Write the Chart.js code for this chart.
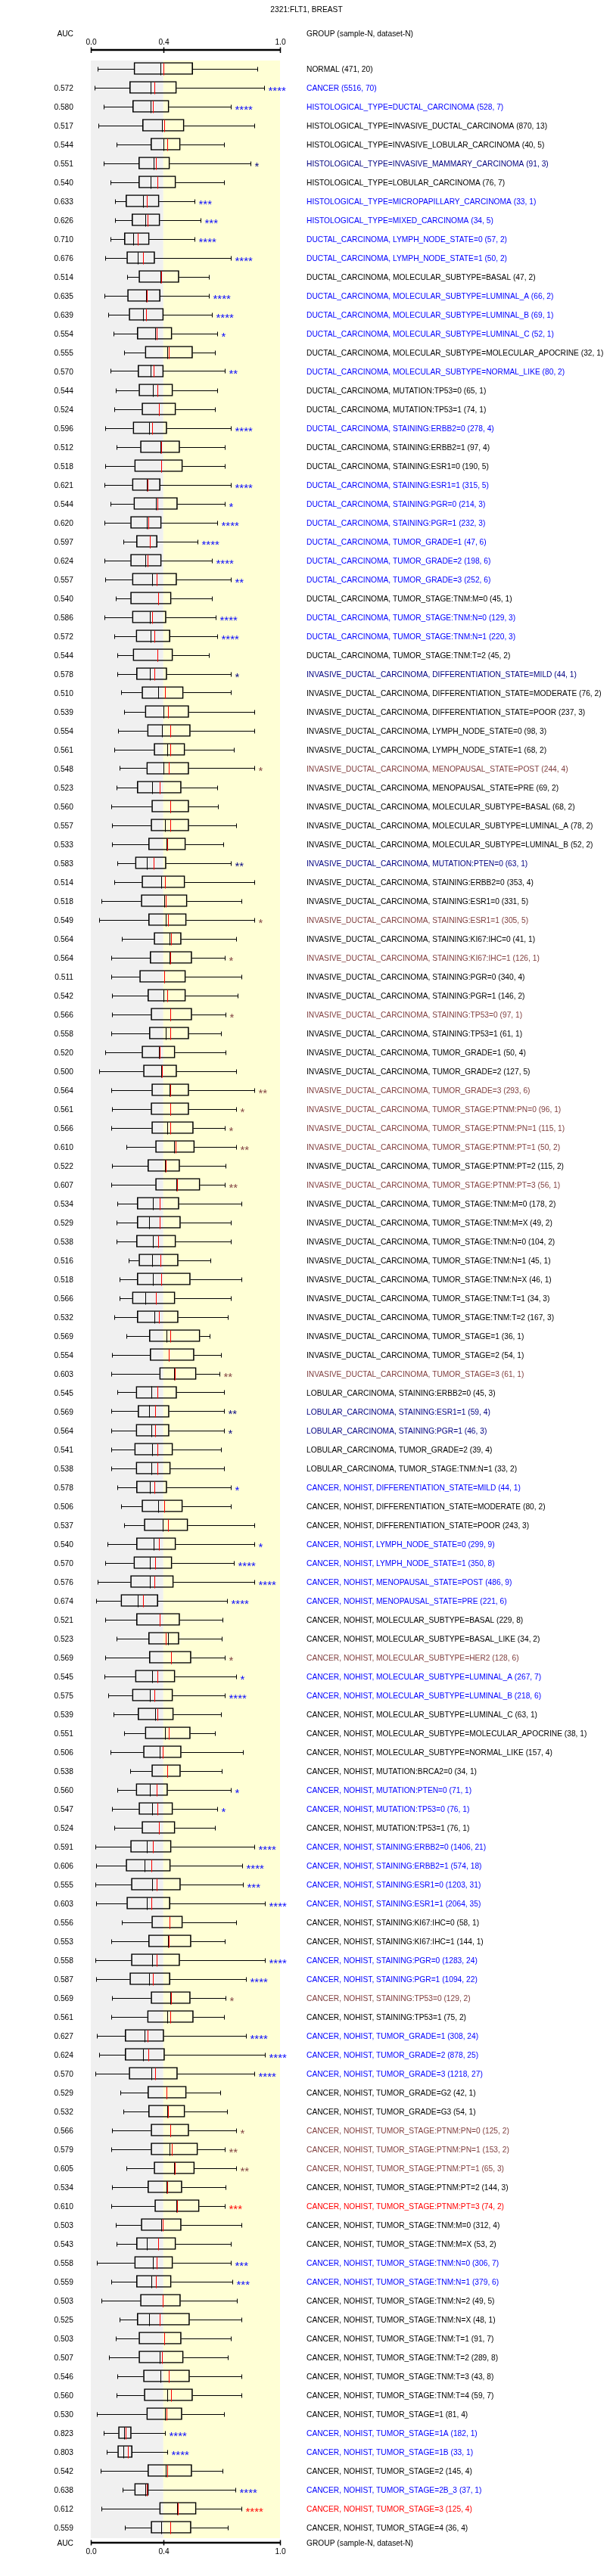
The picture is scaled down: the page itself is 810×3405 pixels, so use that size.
<!doctype html>
<html lang="en">
<head>
  <meta charset="utf-8">
  <title>2321:FLT1, BREAST</title>
  <style>
    * { margin: 0; padding: 0; }
    body { background: #fff; }
    #chart { display: block; }
  </style>
</head>
<body>
  <canvas id="chart" width="810" height="3405"></canvas>
  <script src="https://cdn.jsdelivr.net/npm/chart.js/dist/chart.umd.min.js"></script>
  <script>
    // groups, top to bottom
    const groups = [
      'NORMAL (471, 20)',
      'CANCER (5516, 70)',
      'HISTOLOGICAL_TYPE=DUCTAL_CARCINOMA (528, 7)',
      'HISTOLOGICAL_TYPE=INVASIVE_DUCTAL_CARCINOMA (870, 13)',
      'HISTOLOGICAL_TYPE=INVASIVE_LOBULAR_CARCINOMA (40, 5)',
      'HISTOLOGICAL_TYPE=INVASIVE_MAMMARY_CARCINOMA (91, 3)',
      'HISTOLOGICAL_TYPE=LOBULAR_CARCINOMA (76, 7)',
      'HISTOLOGICAL_TYPE=MICROPAPILLARY_CARCINOMA (33, 1)',
      'HISTOLOGICAL_TYPE=MIXED_CARCINOMA (34, 5)',
      'DUCTAL_CARCINOMA, LYMPH_NODE_STATE=0 (57, 2)',
      'DUCTAL_CARCINOMA, LYMPH_NODE_STATE=1 (50, 2)',
      'DUCTAL_CARCINOMA, MOLECULAR_SUBTYPE=BASAL (47, 2)',
      'DUCTAL_CARCINOMA, MOLECULAR_SUBTYPE=LUMINAL_A (66, 2)',
      'DUCTAL_CARCINOMA, MOLECULAR_SUBTYPE=LUMINAL_B (69, 1)',
      'DUCTAL_CARCINOMA, MOLECULAR_SUBTYPE=LUMINAL_C (52, 1)',
      'DUCTAL_CARCINOMA, MOLECULAR_SUBTYPE=MOLECULAR_APOCRINE (32, 1)',
      'DUCTAL_CARCINOMA, MOLECULAR_SUBTYPE=NORMAL_LIKE (80, 2)',
      'DUCTAL_CARCINOMA, MUTATION:TP53=0 (65, 1)',
      'DUCTAL_CARCINOMA, MUTATION:TP53=1 (74, 1)',
      'DUCTAL_CARCINOMA, STAINING:ERBB2=0 (278, 4)',
      'DUCTAL_CARCINOMA, STAINING:ERBB2=1 (97, 4)',
      'DUCTAL_CARCINOMA, STAINING:ESR1=0 (190, 5)',
      'DUCTAL_CARCINOMA, STAINING:ESR1=1 (315, 5)',
      'DUCTAL_CARCINOMA, STAINING:PGR=0 (214, 3)',
      'DUCTAL_CARCINOMA, STAINING:PGR=1 (232, 3)',
      'DUCTAL_CARCINOMA, TUMOR_GRADE=1 (47, 6)',
      'DUCTAL_CARCINOMA, TUMOR_GRADE=2 (198, 6)',
      'DUCTAL_CARCINOMA, TUMOR_GRADE=3 (252, 6)',
      'DUCTAL_CARCINOMA, TUMOR_STAGE:TNM:M=0 (45, 1)',
      'DUCTAL_CARCINOMA, TUMOR_STAGE:TNM:N=0 (129, 3)',
      'DUCTAL_CARCINOMA, TUMOR_STAGE:TNM:N=1 (220, 3)',
      'DUCTAL_CARCINOMA, TUMOR_STAGE:TNM:T=2 (45, 2)',
      'INVASIVE_DUCTAL_CARCINOMA, DIFFERENTIATION_STATE=MILD (44, 1)',
      'INVASIVE_DUCTAL_CARCINOMA, DIFFERENTIATION_STATE=MODERATE (76, 2)',
      'INVASIVE_DUCTAL_CARCINOMA, DIFFERENTIATION_STATE=POOR (237, 3)',
      'INVASIVE_DUCTAL_CARCINOMA, LYMPH_NODE_STATE=0 (98, 3)',
      'INVASIVE_DUCTAL_CARCINOMA, LYMPH_NODE_STATE=1 (68, 2)',
      'INVASIVE_DUCTAL_CARCINOMA, MENOPAUSAL_STATE=POST (244, 4)',
      'INVASIVE_DUCTAL_CARCINOMA, MENOPAUSAL_STATE=PRE (69, 2)',
      'INVASIVE_DUCTAL_CARCINOMA, MOLECULAR_SUBTYPE=BASAL (68, 2)',
      'INVASIVE_DUCTAL_CARCINOMA, MOLECULAR_SUBTYPE=LUMINAL_A (78, 2)',
      'INVASIVE_DUCTAL_CARCINOMA, MOLECULAR_SUBTYPE=LUMINAL_B (52, 2)',
      'INVASIVE_DUCTAL_CARCINOMA, MUTATION:PTEN=0 (63, 1)',
      'INVASIVE_DUCTAL_CARCINOMA, STAINING:ERBB2=0 (353, 4)',
      'INVASIVE_DUCTAL_CARCINOMA, STAINING:ESR1=0 (331, 5)',
      'INVASIVE_DUCTAL_CARCINOMA, STAINING:ESR1=1 (305, 5)',
      'INVASIVE_DUCTAL_CARCINOMA, STAINING:KI67:IHC=0 (41, 1)',
      'INVASIVE_DUCTAL_CARCINOMA, STAINING:KI67:IHC=1 (126, 1)',
      'INVASIVE_DUCTAL_CARCINOMA, STAINING:PGR=0 (340, 4)',
      'INVASIVE_DUCTAL_CARCINOMA, STAINING:PGR=1 (146, 2)',
      'INVASIVE_DUCTAL_CARCINOMA, STAINING:TP53=0 (97, 1)',
      'INVASIVE_DUCTAL_CARCINOMA, STAINING:TP53=1 (61, 1)',
      'INVASIVE_DUCTAL_CARCINOMA, TUMOR_GRADE=1 (50, 4)',
      'INVASIVE_DUCTAL_CARCINOMA, TUMOR_GRADE=2 (127, 5)',
      'INVASIVE_DUCTAL_CARCINOMA, TUMOR_GRADE=3 (293, 6)',
      'INVASIVE_DUCTAL_CARCINOMA, TUMOR_STAGE:PTNM:PN=0 (96, 1)',
      'INVASIVE_DUCTAL_CARCINOMA, TUMOR_STAGE:PTNM:PN=1 (115, 1)',
      'INVASIVE_DUCTAL_CARCINOMA, TUMOR_STAGE:PTNM:PT=1 (50, 2)',
      'INVASIVE_DUCTAL_CARCINOMA, TUMOR_STAGE:PTNM:PT=2 (115, 2)',
      'INVASIVE_DUCTAL_CARCINOMA, TUMOR_STAGE:PTNM:PT=3 (56, 1)',
      'INVASIVE_DUCTAL_CARCINOMA, TUMOR_STAGE:TNM:M=0 (178, 2)',
      'INVASIVE_DUCTAL_CARCINOMA, TUMOR_STAGE:TNM:M=X (49, 2)',
      'INVASIVE_DUCTAL_CARCINOMA, TUMOR_STAGE:TNM:N=0 (104, 2)',
      'INVASIVE_DUCTAL_CARCINOMA, TUMOR_STAGE:TNM:N=1 (45, 1)',
      'INVASIVE_DUCTAL_CARCINOMA, TUMOR_STAGE:TNM:N=X (46, 1)',
      'INVASIVE_DUCTAL_CARCINOMA, TUMOR_STAGE:TNM:T=1 (34, 3)',
      'INVASIVE_DUCTAL_CARCINOMA, TUMOR_STAGE:TNM:T=2 (167, 3)',
      'INVASIVE_DUCTAL_CARCINOMA, TUMOR_STAGE=1 (36, 1)',
      'INVASIVE_DUCTAL_CARCINOMA, TUMOR_STAGE=2 (54, 1)',
      'INVASIVE_DUCTAL_CARCINOMA, TUMOR_STAGE=3 (61, 1)',
      'LOBULAR_CARCINOMA, STAINING:ERBB2=0 (45, 3)',
      'LOBULAR_CARCINOMA, STAINING:ESR1=1 (59, 4)',
      'LOBULAR_CARCINOMA, STAINING:PGR=1 (46, 3)',
      'LOBULAR_CARCINOMA, TUMOR_GRADE=2 (39, 4)',
      'LOBULAR_CARCINOMA, TUMOR_STAGE:TNM:N=1 (33, 2)',
      'CANCER, NOHIST, DIFFERENTIATION_STATE=MILD (44, 1)',
      'CANCER, NOHIST, DIFFERENTIATION_STATE=MODERATE (80, 2)',
      'CANCER, NOHIST, DIFFERENTIATION_STATE=POOR (243, 3)',
      'CANCER, NOHIST, LYMPH_NODE_STATE=0 (299, 9)',
      'CANCER, NOHIST, LYMPH_NODE_STATE=1 (350, 8)',
      'CANCER, NOHIST, MENOPAUSAL_STATE=POST (486, 9)',
      'CANCER, NOHIST, MENOPAUSAL_STATE=PRE (221, 6)',
      'CANCER, NOHIST, MOLECULAR_SUBTYPE=BASAL (229, 8)',
      'CANCER, NOHIST, MOLECULAR_SUBTYPE=BASAL_LIKE (34, 2)',
      'CANCER, NOHIST, MOLECULAR_SUBTYPE=HER2 (128, 6)',
      'CANCER, NOHIST, MOLECULAR_SUBTYPE=LUMINAL_A (267, 7)',
      'CANCER, NOHIST, MOLECULAR_SUBTYPE=LUMINAL_B (218, 6)',
      'CANCER, NOHIST, MOLECULAR_SUBTYPE=LUMINAL_C (63, 1)',
      'CANCER, NOHIST, MOLECULAR_SUBTYPE=MOLECULAR_APOCRINE (38, 1)',
      'CANCER, NOHIST, MOLECULAR_SUBTYPE=NORMAL_LIKE (157, 4)',
      'CANCER, NOHIST, MUTATION:BRCA2=0 (34, 1)',
      'CANCER, NOHIST, MUTATION:PTEN=0 (71, 1)',
      'CANCER, NOHIST, MUTATION:TP53=0 (76, 1)',
      'CANCER, NOHIST, MUTATION:TP53=1 (76, 1)',
      'CANCER, NOHIST, STAINING:ERBB2=0 (1406, 21)',
      'CANCER, NOHIST, STAINING:ERBB2=1 (574, 18)',
      'CANCER, NOHIST, STAINING:ESR1=0 (1203, 31)',
      'CANCER, NOHIST, STAINING:ESR1=1 (2064, 35)',
      'CANCER, NOHIST, STAINING:KI67:IHC=0 (58, 1)',
      'CANCER, NOHIST, STAINING:KI67:IHC=1 (144, 1)',
      'CANCER, NOHIST, STAINING:PGR=0 (1283, 24)',
      'CANCER, NOHIST, STAINING:PGR=1 (1094, 22)',
      'CANCER, NOHIST, STAINING:TP53=0 (129, 2)',
      'CANCER, NOHIST, STAINING:TP53=1 (75, 2)',
      'CANCER, NOHIST, TUMOR_GRADE=1 (308, 24)',
      'CANCER, NOHIST, TUMOR_GRADE=2 (878, 25)',
      'CANCER, NOHIST, TUMOR_GRADE=3 (1218, 27)',
      'CANCER, NOHIST, TUMOR_GRADE=G2 (42, 1)',
      'CANCER, NOHIST, TUMOR_GRADE=G3 (54, 1)',
      'CANCER, NOHIST, TUMOR_STAGE:PTNM:PN=0 (125, 2)',
      'CANCER, NOHIST, TUMOR_STAGE:PTNM:PN=1 (153, 2)',
      'CANCER, NOHIST, TUMOR_STAGE:PTNM:PT=1 (65, 3)',
      'CANCER, NOHIST, TUMOR_STAGE:PTNM:PT=2 (144, 3)',
      'CANCER, NOHIST, TUMOR_STAGE:PTNM:PT=3 (74, 2)',
      'CANCER, NOHIST, TUMOR_STAGE:TNM:M=0 (312, 4)',
      'CANCER, NOHIST, TUMOR_STAGE:TNM:M=X (53, 2)',
      'CANCER, NOHIST, TUMOR_STAGE:TNM:N=0 (306, 7)',
      'CANCER, NOHIST, TUMOR_STAGE:TNM:N=1 (379, 6)',
      'CANCER, NOHIST, TUMOR_STAGE:TNM:N=2 (49, 5)',
      'CANCER, NOHIST, TUMOR_STAGE:TNM:N=X (48, 1)',
      'CANCER, NOHIST, TUMOR_STAGE:TNM:T=1 (91, 7)',
      'CANCER, NOHIST, TUMOR_STAGE:TNM:T=2 (289, 8)',
      'CANCER, NOHIST, TUMOR_STAGE:TNM:T=3 (43, 8)',
      'CANCER, NOHIST, TUMOR_STAGE:TNM:T=4 (59, 7)',
      'CANCER, NOHIST, TUMOR_STAGE=1 (81, 4)',
      'CANCER, NOHIST, TUMOR_STAGE=1A (182, 1)',
      'CANCER, NOHIST, TUMOR_STAGE=1B (33, 1)',
      'CANCER, NOHIST, TUMOR_STAGE=2 (145, 4)',
      'CANCER, NOHIST, TUMOR_STAGE=2B_3 (37, 1)',
      'CANCER, NOHIST, TUMOR_STAGE=3 (125, 4)',
      'CANCER, NOHIST, TUMOR_STAGE=4 (36, 4)'
    ];

    // AUC vs normal (first row has none)
    const auc = [
      null, 0.572, 0.580, 0.517, 0.544, 0.551, 0.540, 0.633, 0.626, 0.710,
      0.676, 0.514, 0.635, 0.639, 0.554, 0.555, 0.570, 0.544, 0.524, 0.596,
      0.512, 0.518, 0.621, 0.544, 0.620, 0.597, 0.624, 0.557, 0.540, 0.586,
      0.572, 0.544, 0.578, 0.510, 0.539, 0.554, 0.561, 0.548, 0.523, 0.560,
      0.557, 0.533, 0.583, 0.514, 0.518, 0.549, 0.564, 0.564, 0.511, 0.542,
      0.566, 0.558, 0.520, 0.500, 0.564, 0.561, 0.566, 0.610, 0.522, 0.607,
      0.534, 0.529, 0.538, 0.516, 0.518, 0.566, 0.532, 0.569, 0.554, 0.603,
      0.545, 0.569, 0.564, 0.541, 0.538, 0.578, 0.506, 0.537, 0.540, 0.570,
      0.576, 0.674, 0.521, 0.523, 0.569, 0.545, 0.575, 0.539, 0.551, 0.506,
      0.538, 0.560, 0.547, 0.524, 0.591, 0.606, 0.555, 0.603, 0.556, 0.553,
      0.558, 0.587, 0.569, 0.561, 0.627, 0.624, 0.570, 0.529, 0.532, 0.566,
      0.579, 0.605, 0.534, 0.610, 0.503, 0.543, 0.558, 0.559, 0.503, 0.525,
      0.503, 0.507, 0.546, 0.560, 0.530, 0.823, 0.803, 0.542, 0.638, 0.612,
      0.559
    ];

    // number of significance stars
    const stars = [
      0, 4, 4, 0, 0, 1, 0, 3, 3, 4,
      4, 0, 4, 4, 1, 0, 2, 0, 0, 4,
      0, 0, 4, 1, 4, 4, 4, 2, 0, 4,
      4, 0, 1, 0, 0, 0, 0, 1, 0, 0,
      0, 0, 2, 0, 0, 1, 0, 1, 0, 0,
      1, 0, 0, 0, 2, 1, 1, 2, 0, 2,
      0, 0, 0, 0, 0, 0, 0, 0, 0, 2,
      0, 2, 1, 0, 0, 1, 0, 0, 1, 4,
      4, 4, 0, 0, 1, 1, 4, 0, 0, 0,
      0, 1, 1, 0, 4, 4, 3, 4, 0, 0,
      4, 4, 1, 0, 4, 4, 4, 0, 0, 1,
      2, 2, 0, 3, 0, 0, 3, 3, 0, 0,
      0, 0, 0, 0, 0, 4, 4, 0, 4, 4,
      0
    ];

    // result class: k none, b lower, n lower (weak), m higher, r higher (strong)
    const tone = [
      'k', 'b', 'b', 'k', 'k', 'n', 'k', 'b', 'b', 'b',
      'b', 'k', 'b', 'b', 'b', 'k', 'b', 'k', 'k', 'b',
      'k', 'k', 'b', 'b', 'b', 'b', 'b', 'b', 'k', 'b',
      'b', 'k', 'n', 'k', 'k', 'k', 'k', 'm', 'k', 'k',
      'k', 'k', 'n', 'k', 'k', 'm', 'k', 'm', 'k', 'k',
      'm', 'k', 'k', 'k', 'm', 'm', 'm', 'm', 'k', 'm',
      'k', 'k', 'k', 'k', 'k', 'k', 'k', 'k', 'k', 'm',
      'k', 'n', 'n', 'k', 'k', 'b', 'k', 'k', 'b', 'b',
      'b', 'b', 'k', 'k', 'm', 'b', 'b', 'k', 'k', 'k',
      'k', 'b', 'b', 'k', 'b', 'b', 'b', 'b', 'k', 'k',
      'b', 'b', 'm', 'k', 'b', 'b', 'b', 'k', 'k', 'm',
      'm', 'm', 'k', 'r', 'k', 'k', 'b', 'b', 'k', 'k',
      'k', 'k', 'k', 'k', 'k', 'b', 'b', 'k', 'b', 'r',
      'k'
    ];

    const whiskerLow = [
      .037, .021, .069, .040, .137, .069, .105, .129, .129, .105,
      .074, .190, .070, .091, .118, .175, .105, .130, .122, .074,
      .134, .074, .070, .105, .070, .173, .070, .074, .130, .070,
      .122, .138, .138, .159, .175, .142, .122, .151, .134, .109,
      .111, .111, .138, .122, .054, .043, .163, .109, .109, .111,
      .111, .109, .074, .043, .109, .111, .109, .186, .111, .109,
      .138, .134, .134, .198, .151, .151, .122, .186, .111, .109,
      .138, .109, .109, .109, .109, .138, .159, .175, .087, .074,
      .035, .027, .074, .134, .074, .070, .091, .118, .175, .105,
      .206, .138, .111, .122, .023, .027, .023, .027, .163, .109,
      .023, .027, .111, .109, .031, .043, .023, .155, .171, .111,
      .109, .186, .111, .109, .130, .134, .031, .109, .054, .151,
      .130, .095, .138, .134, .031, .066, .082, .052, .167, .054,
      .179
    ];

    const quart1 = [
      .228, .205, .221, .273, .317, .253, .253, .185, .217, .177,
      .190, .254, .194, .202, .245, .287, .249, .254, .270, .223,
      .262, .231, .219, .227, .210, .241, .210, .219, .210, .219,
      .239, .223, .241, .270, .287, .299, .334, .295, .245, .322,
      .318, .305, .235, .270, .266, .305, .334, .313, .258, .301,
      .318, .309, .270, .278, .322, .318, .322, .342, .301, .342,
      .245, .245, .241, .254, .245, .219, .245, .309, .313, .363,
      .239, .249, .239, .231, .239, .241, .270, .282, .241, .227,
      .210, .159, .241, .305, .309, .235, .219, .249, .287, .278,
      .322, .239, .254, .270, .210, .186, .214, .190, .322, .305,
      .214, .206, .318, .299, .181, .181, .202, .301, .305, .318,
      .318, .334, .301, .338, .266, .241, .231, .241, .262, .245,
      .254, .254, .278, .282, .295, .146, .142, .301, .231, .363,
      .318
    ];

    const median = [
      .369, .315, .315, .377, .383, .331, .317, .277, .289, .225,
      .249, .367, .293, .274, .340, .402, .315, .326, .359, .307,
      .367, .371, .295, .344, .297, .313, .289, .322, .355, .311,
      .315, .351, .311, .355, .384, .377, .404, .384, .322, .419,
      .390, .400, .295, .373, .388, .394, .414, .414, .386, .384,
      .419, .394, .361, .373, .414, .421, .402, .441, .390, .452,
      .326, .309, .326, .322, .326, .287, .334, .398, .412, .441,
      .318, .309, .318, .322, .318, .311, .355, .381, .332, .313,
      .311, .247, .363, .408, .423, .322, .313, .340, .390, .365,
      .402, .313, .322, .359, .297, .285, .322, .295, .414, .408,
      .322, .307, .421, .402, .285, .276, .318, .398, .402, .421,
      .414, .441, .398, .452, .373, .297, .326, .318, .381, .309,
      .386, .363, .369, .402, .392, .177, .171, .394, .287, .454,
      .373
    ];

    const mean = [
      .385, .337, .329, .389, .405, .345, .353, .297, .301, .249,
      .274, .371, .295, .293, .346, .410, .332, .353, .359, .322,
      .371, .373, .299, .353, .303, .313, .299, .346, .357, .324,
      .334, .353, .334, .390, .406, .419, .419, .412, .365, .421,
      .419, .402, .330, .390, .394, .408, .425, .421, .388, .404,
      .421, .419, .365, .375, .419, .421, .421, .449, .394, .454,
      .363, .365, .357, .369, .373, .342, .361, .421, .412, .445,
      .353, .338, .338, .353, .353, .334, .386, .406, .359, .338,
      .334, .274, .365, .396, .425, .353, .334, .353, .410, .381,
      .402, .346, .351, .359, .326, .318, .349, .318, .414, .412,
      .346, .326, .425, .419, .301, .305, .338, .398, .406, .421,
      .429, .445, .402, .454, .379, .355, .346, .342, .381, .365,
      .388, .377, .412, .425, .398, .184, .194, .404, .295, .458,
      .419
    ];

    const quart3 = [
      .539, .453, .413, .493, .473, .417, .449, .361, .365, .309,
      .338, .466, .367, .384, .429, .538, .384, .433, .449, .402,
      .470, .485, .367, .458, .373, .351, .373, .454, .425, .398,
      .419, .433, .402, .489, .518, .526, .497, .518, .478, .518,
      .518, .501, .398, .497, .509, .505, .478, .534, .501, .501,
      .534, .518, .445, .454, .518, .518, .542, .548, .470, .577,
      .466, .474, .449, .462, .526, .445, .462, .577, .546, .557,
      .454, .414, .414, .433, .421, .402, .485, .513, .449, .429,
      .437, .355, .470, .466, .530, .445, .433, .437, .526, .478,
      .474, .406, .433, .445, .425, .421, .474, .419, .485, .530,
      .470, .419, .526, .542, .386, .390, .458, .505, .497, .518,
      .565, .548, .482, .573, .478, .449, .433, .425, .474, .522,
      .478, .489, .522, .538, .482, .214, .219, .534, .305, .557,
      .530
    ];

    const whiskerHigh = [
      .881, .916, .741, .865, .705, .845, .705, .549, .581, .546,
      .740, .625, .625, .641, .666, .654, .709, .666, .654, .740,
      .709, .709, .740, .709, .666, .563, .641, .740, .641, .658,
      .666, .625, .740, .740, .864, .864, .757, .864, .666, .672,
      .769, .701, .740, .864, .796, .864, .769, .709, .796, .777,
      .713, .689, .713, .769, .864, .769, .709, .769, .713, .709,
      .796, .740, .740, .633, .796, .740, .722, .629, .689, .680,
      .705, .705, .705, .689, .705, .740, .740, .864, .864, .757,
      .864, .718, .697, .693, .709, .769, .709, .689, .654, .804,
      .693, .740, .666, .654, .864, .800, .804, .918, .769, .709,
      .918, .821, .713, .705, .821, .918, .864, .685, .718, .769,
      .709, .769, .713, .709, .796, .740, .740, .749, .773, .796,
      .740, .722, .796, .796, .705, .390, .402, .697, .765, .796,
      .722
    ];

    // axis ticks: the middle one sits on the NORMAL median
    const axisTicks = [0, 0.383, 1];
    const axisTickLabels = ['0.0', '0.4', '1.0'];

    const toneColor = { k: '#000000', b: '#0000ff', n: '#000080', m: '#804040', r: '#ff0000' };
    const FONT = '11px "Liberation Sans", Arial, sans-serif';
    const SQUEEZE = 0.93;

    function text(ctx, s, x, y, align, color, font, sx) {
      ctx.save();
      ctx.font = font || FONT;
      ctx.fillStyle = color || '#000';
      ctx.textAlign = align;
      ctx.textBaseline = 'alphabetic';
      ctx.translate(x, y);
      ctx.scale(sx || SQUEEZE, 1);
      ctx.fillText(s, 0, 0);
      ctx.restore();
    }

    function line(ctx, x1, y1, x2, y2, color, w) {
      ctx.beginPath();
      ctx.strokeStyle = color;
      ctx.lineWidth = w;
      ctx.moveTo(x1, y1);
      ctx.lineTo(x2, y2);
      ctx.stroke();
    }

    // grey / yellow bands behind the boxes
    const bands = {
      id: 'bands',
      beforeDatasetsDraw(chart) {
        const { ctx, chartArea, scales: { x } } = chart;
        const top = chartArea.top + 2;
        const h = chartArea.bottom - chartArea.top;
        const xs = x.getPixelForValue(0);
        const xm = x.getPixelForValue(axisTicks[1]);
        const xe = x.getPixelForValue(1);
        ctx.save();
        ctx.fillStyle = '#f0f0f0';
        ctx.fillRect(xs, top, xm - xs, h);
        ctx.fillStyle = '#ffffd5';
        ctx.fillRect(xm, top, xe - xm, h);
        ctx.restore();
      }
    };

    // whiskers, median, mean, stars
    const boxParts = {
      id: 'boxParts',
      afterDatasetsDraw(chart) {
        const { ctx, scales: { x, y } } = chart;
        const px = v => Math.round(x.getPixelForValue(v)) + 0.5;
        ctx.save();
        for (let i = 0; i < groups.length; i++) {
          const yc = Math.round(y.getPixelForValue(i)) + 0.5;
          const lo = px(whiskerLow[i]), hi = px(whiskerHigh[i]);
          const a = x.getPixelForValue(quart1[i]), b = x.getPixelForValue(quart3[i]);
          line(ctx, lo, yc, a, yc, '#000', 1);
          line(ctx, b, yc, hi, yc, '#000', 1);
          line(ctx, lo, yc - 3, lo, yc + 3, '#000', 1);
          line(ctx, hi, yc - 3, hi, yc + 3, '#000', 1);
          line(ctx, px(median[i]), yc - 8, px(median[i]), yc + 8, '#000', 1);
          line(ctx, px(mean[i]), yc - 8, px(mean[i]), yc + 8, '#ff0000', 1);
          if (stars[i] > 0) {
            text(ctx, '*'.repeat(stars[i]), hi + 5, yc + 8.5, 'left', toneColor[tone[i]],
              '15px "Liberation Sans", Arial, sans-serif', 1);
          }
        }
        ctx.restore();
      }
    };

    // titles, axes and row labels
    const labels = {
      id: 'labels',
      afterDraw(chart) {
        const { ctx, chartArea, scales: { x, y } } = chart;
        const aucX = 97, groupX = 405;
        text(ctx, '2321:FLT1, BREAST', 405, 16, 'center');
        text(ctx, 'AUC', aucX, 48, 'right');
        text(ctx, 'GROUP (sample-N, dataset-N)', groupX, 48, 'left');

        const x0 = x.getPixelForValue(0), x1 = x.getPixelForValue(1);
        // top axis
        line(ctx, x0, 66, x1, 66, '#000', 2.5);
        axisTicks.forEach((t, k) => {
          const tx = Math.round(x.getPixelForValue(t)) + 0.5;
          line(ctx, tx, 62.5, tx, 70, '#000', 1.5);
          text(ctx, axisTickLabels[k], tx, 59, 'center');
        });
        // bottom axis
        const by = chartArea.bottom + 8;
        line(ctx, x0, by, x1, by, '#000', 2.5);
        axisTicks.forEach((t, k) => {
          const tx = Math.round(x.getPixelForValue(t)) + 0.5;
          line(ctx, tx, by - 3.5, tx, by + 3.5, '#000', 1.5);
          text(ctx, axisTickLabels[k], tx, by + 15, 'center');
        });
        text(ctx, 'AUC', aucX, by + 4, 'right');
        text(ctx, 'GROUP (sample-N, dataset-N)', groupX, by + 4, 'left');

        for (let i = 0; i < groups.length; i++) {
          const yc = y.getPixelForValue(i);
          if (auc[i] !== null) text(ctx, auc[i].toFixed(3), aucX, yc + 4, 'right');
          text(ctx, groups[i], groupX, yc + 4, 'left', toneColor[tone[i]]);
        }
      }
    };

    const data = {
      labels: groups,
      datasets: [{
        data: quart1.map((q, i) => [q, quart3[i]]),
        backgroundColor: 'rgba(0,0,0,0)',
        borderColor: '#000',
        borderWidth: 1,
        borderSkipped: false,
        barThickness: 16,
        grouped: false
      }]
    };

    const config = {
      type: 'bar',
      data,
      options: {
        indexAxis: 'y',
        responsive: false,
        animation: false,
        devicePixelRatio: 1,
        layout: { padding: { left: 120, right: 440, top: 78, bottom: 52 } },
        scales: {
          x: { type: 'linear', min: 0, max: 1, display: false },
          y: { type: 'category', display: false, offset: true }
        },
        plugins: {
          legend: { display: false },
          tooltip: { enabled: false }
        }
      },
      plugins: [bands, boxParts, labels]
    };

    new Chart(document.getElementById('chart'), config);
  </script>
</body>
</html>
